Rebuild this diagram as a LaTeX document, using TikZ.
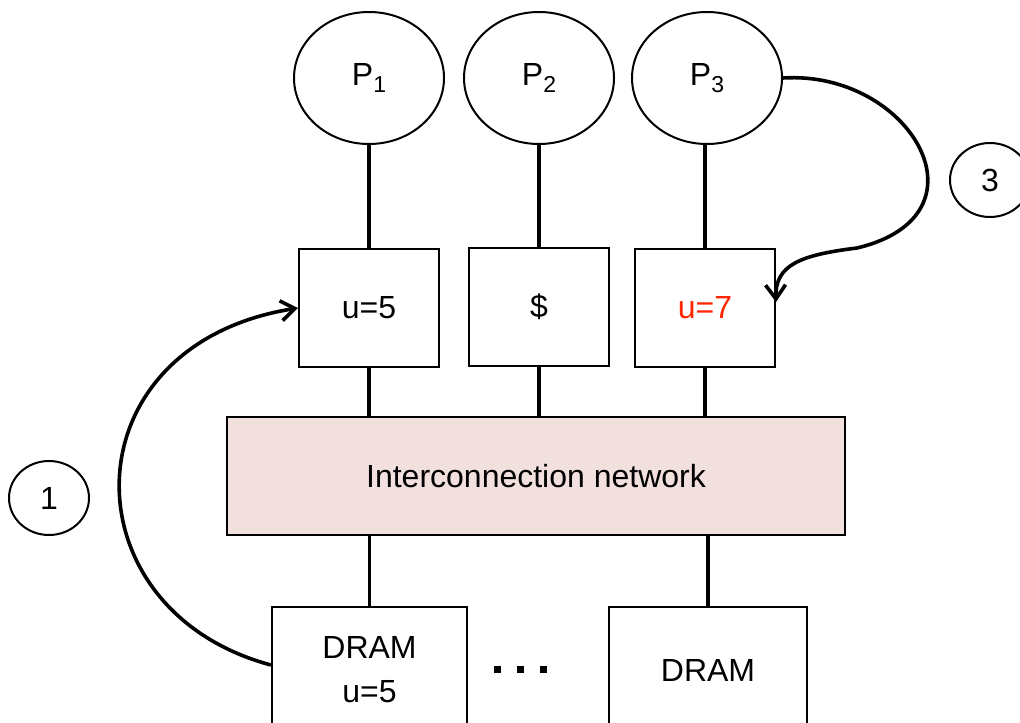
\documentclass[tikz,border=0pt]{standalone}
\usepackage{fontspec}
\setmainfont{Liberation Sans}
\usepackage{xcolor}
\usepackage{tikz}
\usetikzlibrary{shapes, calc, arrows.meta, positioning}
\definecolor{netpink}{RGB}{242,224,222}
\definecolor{keyred}{RGB}{255,38,0}
\newcommand{\psub}[1]{\raisebox{-3.5pt}{\fontsize{11.5}{12}\selectfont #1}}

\begin{document}
\begin{tikzpicture}[x=0.5pt, y=-0.5pt,
	every node/.style={font=\fontsize{16}{22}\selectfont, align=center},
	proc/.style={ellipse, draw, line width=1pt, minimum width=75pt, minimum height=66pt, inner sep=0pt},
	stepnum/.style={ellipse, draw, line width=1pt, minimum width=40pt, minimum height=37pt, inner sep=0pt},
	cachebox/.style={draw, line width=1pt, minimum width=70pt, minimum height=59pt},
	drambox/.style={draw, line width=1pt, minimum height=63pt},
	wire/.style={line width=1.6pt},
	flow/.style={line width=1.8pt, -{Straight Barb[length=7pt, width=10pt, line width=1.8pt]}}]
	\useasboundingbox (0,0) rectangle (1020,722);

	% processors
	\node[proc] (p1) at (369,78) {P\psub{1}};
	\node[proc] (p2) at (539,78) {P\psub{2}};
	\node[proc] (p3) at (707,78) {P\psub{3}};

	% caches
	\node[cachebox] (c1) at (369,308) {u=5};
	\node[cachebox] (c2) at (539,307) {\$};
	\node[cachebox] (c3) at (705,308) {\textcolor{keyred}{u=7}};

	% network
	\node[draw, line width=1pt, fill=netpink, minimum width=309pt, minimum height=59pt] (net) at (536,476) {Interconnection network};

	% memories
	\node[drambox, minimum width=97.5pt] (dram1) at (369.5,670) {DRAM\\u=5};
	\node[drambox, minimum width=99pt] (dram2) at (708,670) {DRAM};
	\foreach \dx in {-23,0,23}
		\fill (520+\dx-3.5,669-3.5) rectangle ++(7,7);

	% step labels
	\node[stepnum] (s1) at (49,498) {1};
	\node[stepnum] (s3) at (990,180) {3};

	% wires
	\draw[wire] (p1) -- (c1);
	\draw[wire] (p2) -- (c2);
	\draw[wire] (p3.south -| c3.north) -- (c3);
	\draw[wire] (c1.south) -- (c1.south |- net.north);
	\draw[wire] (c2.south) -- (c2.south |- net.north);
	\draw[wire] (c3.south) -- (c3.south |- net.north);
	\draw[wire] (dram1.north) -- (dram1.north |- net.south);
	\draw[wire] (dram2.north) -- (dram2.north |- net.south);

	% steps
	\draw[flow] ($(dram1.west)+(0,-5)$) .. controls (65,610) and (65,345) .. (c1.west);
	\draw[flow] (p3.east) .. controls (910,70) and (995,215) .. (857,248) .. controls (800,255) and (775,265) .. ($(c3.east)+(0,-6)$);
\end{tikzpicture}
\end{document}
